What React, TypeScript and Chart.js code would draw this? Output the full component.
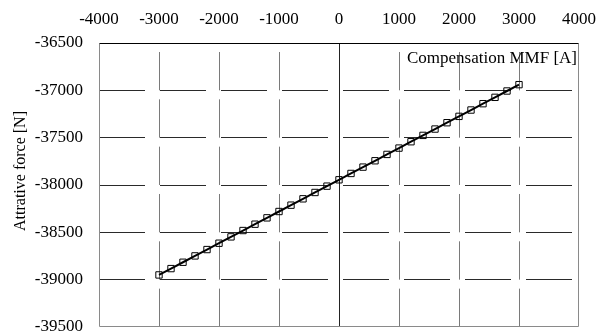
import React, { useEffect, useRef } from "react";
import { Chart, registerables } from "chart.js";

Chart.register(...registerables);

// Compensation MMF [A]
const mmf = [
  -3000, -2800, -2600, -2400, -2200, -2000, -1800, -1600, -1400, -1200, -1000,
  -800, -600, -400, -200, 0, 200, 400, 600, 800, 1000, 1200, 1400, 1600, 1800,
  2000, 2200, 2400, 2600, 2800, 3000,
];
// Attrative force [N]
const force = [
  -38950, -38883, -38816, -38749, -38682, -38615, -38548, -38481, -38414,
  -38347, -38280, -38213, -38146, -38079, -38012, -37945, -37878, -37811,
  -37744, -37677, -37610, -37543, -37476, -37409, -37342, -37275, -37208,
  -37141, -37074, -37007, -36940,
];
const xTickValues = [-4000, -3000, -2000, -1000, 0, 1000, 2000, 3000, 4000];
const yTickValues = [-39500, -39000, -38500, -38000, -37500, -37000, -36500];
const xTitle = "Compensation MMF [A]";
const yTitle = "Attrative force [N]";

const FONT = "'Liberation Serif', 'Times New Roman', serif";

export default function App() {
  const ref = useRef<HTMLCanvasElement | null>(null);

  useEffect(() => {
    if (!ref.current) return;

    const overlay = {
      id: "overlay",
      beforeDatasetsDraw(chart: any) {
        const { ctx, chartArea, scales } = chart;
        const { left, right, top, bottom } = chartArea;
        const x0 = Math.round(scales.x.getPixelForValue(0)) + 0.5;
        ctx.save();
        ctx.setLineDash([]);
        ctx.lineWidth = 1;
        ctx.strokeStyle = "#222";
        ctx.beginPath();
        ctx.moveTo(x0, top);
        ctx.lineTo(x0, bottom);
        ctx.stroke();
        const L = Math.round(left) + 0.5;
        const R = Math.round(right) - 0.5;
        const T = Math.round(top) + 0.5;
        const B = Math.round(bottom) - 0.5;
        ctx.strokeStyle = "#8a8a8a";
        ctx.beginPath();
        ctx.moveTo(L, T);
        ctx.lineTo(L, B);
        ctx.lineTo(R, B);
        ctx.lineTo(R, T);
        ctx.stroke();
        ctx.strokeStyle = "#000";
        ctx.beginPath();
        ctx.moveTo(L, T);
        ctx.lineTo(R, T);
        ctx.stroke();
        // x title inside plot (top right)
        ctx.fillStyle = "#000";
        ctx.font = `17px ${FONT}`;
        ctx.textAlign = "right";
        ctx.textBaseline = "alphabetic";
        ctx.fillText(xTitle, right - 2, top + 20);
        // y title
        ctx.translate(21, 171);
        ctx.rotate(-Math.PI / 2);
        ctx.font = `16px ${FONT}`;
        ctx.textAlign = "center";
        ctx.textBaseline = "middle";
        ctx.fillText(yTitle, 0, 0);
        ctx.restore();
      },
    };

    const chart = new Chart(ref.current, {
      type: "line",
      data: {
        datasets: [
          {
            data: mmf.map((v, i) => ({ x: v, y: force[i] })),
            borderColor: "#000",
            borderWidth: 2,
            pointStyle: "rect",
            pointRadius: 4.5,
            pointBorderWidth: 1,
            pointBorderColor: "#000",
            pointBackgroundColor: "rgba(0,0,0,0)",
            fill: false,
            tension: 0,
          },
        ],
      },
      options: {
        animation: false,
        responsive: true,
        maintainAspectRatio: false,
        layout: { padding: { left: 0, right: 30, top: 0, bottom: 9 } },
        plugins: {
          legend: { display: false },
          tooltip: { enabled: false },
        },
        scales: {
          x: {
            type: "linear",
            position: "top",
            min: -4000,
            max: 4000,
            afterBuildTicks: (s: any) => {
              s.ticks = xTickValues.map((v) => ({ value: v }));
            },
            afterFit: (s: any) => {
              s.height = 43;
              s.paddingLeft = 0;
              s.paddingRight = 0;
            },
            ticks: {
              color: "#000",
              font: { family: FONT, size: 17 },
              padding: 13,
              maxRotation: 0,
              autoSkip: false,
              callback: (v: any) => String(v),
            },
            grid: {
              drawTicks: false,
              color: (c: any) => {
                const v = c.tick ? c.tick.value : null;
                return v === 0 || v === -4000 || v === 4000
                  ? "rgba(0,0,0,0)"
                  : "#7a7a7a";
              },
              lineWidth: 1,
            },
            border: { display: false, dash: [38.33, 9], dashOffset: 38.33 },
          },
          y: {
            type: "linear",
            min: -39500,
            max: -36500,
            afterBuildTicks: (s: any) => {
              s.ticks = yTickValues.map((v) => ({ value: v }));
            },
            afterFit: (s: any) => {
              s.width = 99;
              s.paddingTop = 0;
              s.paddingBottom = 0;
            },
            ticks: {
              color: "#000",
              font: { family: FONT, size: 17 },
              padding: 16,
              autoSkip: false,
              callback: (v: any) => String(v),
            },
            grid: {
              drawTicks: false,
              color: (c: any) => {
                const v = c.tick ? c.tick.value : null;
                return v === -39500 || v === -36500 ? "rgba(0,0,0,0)" : "#2a2a2a";
              },
              lineWidth: 1,
            },
            border: { display: false, dash: [46, 15] },
          },
        },
      },
      plugins: [overlay],
    });

    return () => chart.destroy();
  }, []);

  return (
    <div
      style={{
        position: "fixed",
        left: 0,
        top: 0,
        width: 609,
        height: 336,
        background: "#fff",
      }}
    >
      <canvas ref={ref} />
    </div>
  );
}
